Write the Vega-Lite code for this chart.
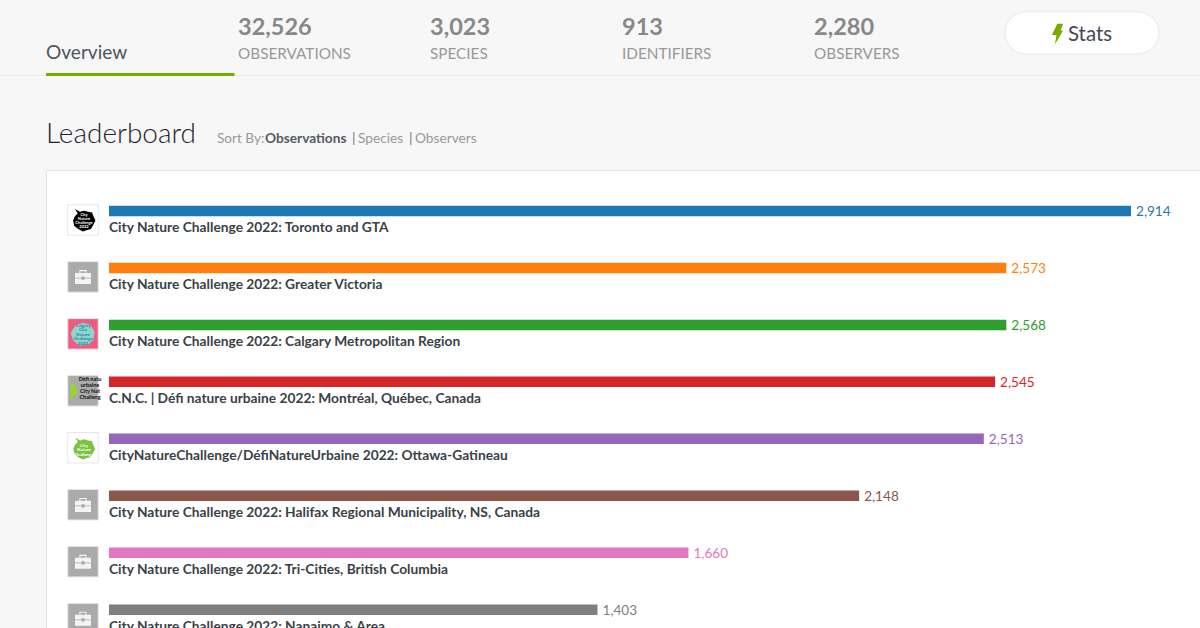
{
"$schema":"https://vega.github.io/schema/vega-lite/v6.json",
"width":1200,"height":628,"padding":0,"autosize":{"type":"none"},
"background":"#f7f7f7",
"config":{"view":{"stroke":null},"text":{"font":"Lato"}},
"datasets":{
"rows":[
{"place":"City Nature Challenge 2022: Toronto and GTA","observations":2914,"bar_percent":100,"icon":"black"},
{"place":"City Nature Challenge 2022: Greater Victoria","observations":2573,"bar_percent":87.8,"icon":"default"},
{"place":"City Nature Challenge 2022: Calgary Metropolitan Region","observations":2568,"bar_percent":87.8,"icon":"pink"},
{"place":"C.N.C. | Défi nature urbaine 2022: Montréal, Québec, Canada","observations":2545,"bar_percent":86.7,"icon":"defi"},
{"place":"CityNatureChallenge/DéfiNatureUrbaine 2022: Ottawa-Gatineau","observations":2513,"bar_percent":85.6,"icon":"green"},
{"place":"City Nature Challenge 2022: Halifax Regional Municipality, NS, Canada","observations":2148,"bar_percent":73.4,"icon":"default"},
{"place":"City Nature Challenge 2022: Tri-Cities, British Columbia","observations":1660,"bar_percent":56.7,"icon":"default"},
{"place":"City Nature Challenge 2022: Nanaimo & Area","observations":1403,"bar_percent":47.8,"icon":"default"}
],
"stats":[
{"column":0,"count":32526,"label":"OBSERVATIONS"},
{"column":1,"count":3023,"label":"SPECIES"},
{"column":2,"count":913,"label":"IDENTIFIERS"},
{"column":3,"count":2280,"label":"OBSERVERS"}
]
},
"resolve":{"scale":{"x":"independent","y":"independent"}},
"layer":[
{"data":{"values":[{"part":"panel"}]},"mark":{"type":"rect","x":46.5,"x2":1230,"y":170.5,"y2":660,"fill":"#ffffff","stroke":"#e4e4e4","strokeWidth":1},"encoding":{}},
{"data":{"values":[{"part":"header line"}]},"mark":{"type":"rect","x":0,"x2":1200,"y":75,"y2":76,"fill":"#ebebeb"},"encoding":{}},
{"data":{"values":[{"part":"tab underline"}]},"mark":{"type":"rect","x":46,"x2":234.5,"y":73,"y2":76,"fill":"#74ac00"},"encoding":{}},
{"data":{"values":[{"label":"Overview"}]},"mark":{"type":"text","x":46,"y":59,"align":"left","baseline":"alphabetic","fontSize":19.1,"fill":"#4f5560"},"encoding":{"text":{"field":"label"}}},
{"data":{"values":[{"label":"Leaderboard"}]},"mark":{"type":"text","x":46,"y":143,"align":"left","baseline":"alphabetic","fontSize":28,"fontWeight":300,"fill":"#1f232b"},"encoding":{"text":{"field":"label"}}},
{"data":{"values":[{"label":"Sort By:"}]},"mark":{"type":"text","x":217,"y":143,"align":"left","baseline":"alphabetic","fontSize":13.6,"fill":"#999999"},"encoding":{"text":{"field":"label"}}},
{"data":{"values":[{"label":"Observations"}]},"mark":{"type":"text","x":265,"y":143,"align":"left","baseline":"alphabetic","fontSize":13.7,"fontWeight":"bold","fill":"#555a63"},"encoding":{"text":{"field":"label"}}},
{"data":{"values":[{"label":"|"}]},"mark":{"type":"text","x":352,"y":143,"align":"left","baseline":"alphabetic","fontSize":14,"fill":"#777777"},"encoding":{"text":{"field":"label"}}},
{"data":{"values":[{"label":"Species"}]},"mark":{"type":"text","x":358,"y":143,"align":"left","baseline":"alphabetic","fontSize":13.7,"fill":"#999999"},"encoding":{"text":{"field":"label"}}},
{"data":{"values":[{"label":"|"}]},"mark":{"type":"text","x":409,"y":143,"align":"left","baseline":"alphabetic","fontSize":14,"fill":"#777777"},"encoding":{"text":{"field":"label"}}},
{"data":{"values":[{"label":"Observers"}]},"mark":{"type":"text","x":415,"y":143,"align":"left","baseline":"alphabetic","fontSize":13.7,"fill":"#999999"},"encoding":{"text":{"field":"label"}}},
{"data":{"values":[{"part":"stats button"}]},"mark":{"type":"rect","x":1005,"x2":1159,"y":12,"y2":54,"cornerRadius":21,"fill":"#ffffff","stroke":"#e8e8e8","strokeWidth":1},"encoding":{}},
{"data":{"values":[{"part":"bolt"}]},"mark":{"type":"point","x":1057.5,"y":34,"size":420,"filled":true,"fill":"#74ac00","opacity":1,"strokeWidth":0,"shape":"M-0.02,-1 L0.55,-1 L0.3,-0.35 L0.55,-0.35 L-0.25,1 L-0.1,0.1 L-0.55,0.1 Z"},"encoding":{}},
{"data":{"values":[{"label":"Stats"}]},"mark":{"type":"text","x":1068,"y":41,"align":"left","baseline":"alphabetic","fontSize":20.4,"fill":"#454a54"},"encoding":{"text":{"field":"label"}}},
{"data":{"name":"stats"},"mark":{"type":"text","y":35,"align":"left","baseline":"alphabetic","fontSize":23.5,"fontWeight":"bold","fill":"#888888"},
 "encoding":{"x":{"field":"column","type":"quantitative","axis":null,"scale":{"domain":[0,3],"range":[238,814]}},"text":{"field":"count","type":"quantitative","format":","}}},
{"data":{"name":"stats"},"mark":{"type":"text","y":59,"align":"left","baseline":"alphabetic","fontSize":15.3,"fill":"#999999"},
 "encoding":{"x":{"field":"column","type":"quantitative","axis":null,"scale":{"domain":[0,3],"range":[238,814]}},"text":{"field":"label"}}},
{"data":{"name":"rows"},
 "encoding":{
  "y":{"field":"place","type":"nominal","axis":null,"sort":null,"scale":{"type":"band","range":[182.5,638.1],"paddingInner":0,"paddingOuter":0}}
 },
 "layer":[
  {"mark":{"type":"bar","size":10.5},"encoding":{
    "x":{"field":"bar_percent","type":"quantitative","axis":null,"scale":{"domain":[0,100],"range":[109,1131]}},
    "color":{"field":"place","type":"nominal","sort":null,"legend":null,"scale":{"scheme":"category10"}}}},
  {"mark":{"type":"text","align":"left","baseline":"middle","dx":5,"dy":1.5,"fontSize":13.6},"encoding":{
    "x":{"field":"bar_percent","type":"quantitative"},
    "text":{"field":"observations","type":"quantitative","format":","},
    "color":{"field":"place","type":"nominal","sort":null,"legend":null,"scale":{"scheme":"category10"}}}},
  {"mark":{"type":"text","align":"left","baseline":"middle","dy":17.3,"fontSize":13.75,"fontWeight":"bold","fill":"#3a3f48"},"encoding":{
    "x":{"datum":0,"type":"quantitative"},
    "text":{"field":"place"}}},
  {"transform":[{"filter":"datum.icon==='default'"}],"mark":{"type":"point","shape":"square","filled":true,"size":930,"fill":"#aaaaaa","stroke":"#e6e6e6","strokeWidth":1,"opacity":1,"xOffset":-26,"yOffset":9},"encoding":{"x":{"datum":0,"type":"quantitative"}}},
  {"transform":[{"filter":"datum.icon==='default'"}],"mark":{"type":"point","filled":true,"size":256,"fill":"#f4f4f4","strokeWidth":0,"opacity":1,"xOffset":-26,"yOffset":9,
    "shape":"M-1,-0.5 H1 V0.1 H0.2 V-0.05 H-0.2 V0.1 H-1 Z M-1,0.2 H-0.2 V0.35 H0.2 V0.2 H1 V0.9 H-1 Z M-0.45,-0.5 V-0.85 H0.45 V-0.5 H0.32 V-0.72 H-0.32 V-0.5 Z"},"encoding":{"x":{"datum":0,"type":"quantitative"}}},
  {"transform":[{"filter":"datum.icon==='black'||datum.icon==='green'"}],"mark":{"type":"point","shape":"square","filled":true,"size":930,"fill":"#ffffff","stroke":"#e6e6e6","strokeWidth":1,"opacity":1,"xOffset":-26,"yOffset":9},"encoding":{"x":{"datum":0,"type":"quantitative"}}},
  {"transform":[{"filter":"datum.icon==='pink'"}],"mark":{"type":"point","shape":"square","filled":true,"size":930,"fill":"#ef5a7e","stroke":"#e6e6e6","strokeWidth":1,"opacity":1,"xOffset":-26,"yOffset":9},"encoding":{"x":{"datum":0,"type":"quantitative"}}},
  {"transform":[{"filter":"datum.icon==='defi'"}],"mark":{"type":"point","shape":"square","filled":true,"size":930,"fill":"#aaaaaa","stroke":"#e6e6e6","strokeWidth":1,"opacity":1,"xOffset":-26,"yOffset":9},"encoding":{"x":{"datum":0,"type":"quantitative"}}},
  {"transform":[{"filter":"datum.icon==='black'"}],"mark":{"type":"point","filled":true,"size":530,"fill":"#000000","strokeWidth":0,"opacity":1,"xOffset":-25,"yOffset":9.5,
    "shape":"M-0.55,-0.62 L-0.8,-1 L-0.35,-0.75 L0,-0.85 L0.35,-0.75 L0.7,-0.7 L0.85,-0.3 L1,0 L0.8,0.4 L0.6,0.75 L0.2,0.85 L-0.1,0.95 L-0.5,0.75 L-0.85,0.45 L-0.95,0 L-0.8,-0.35 Z"},"encoding":{"x":{"datum":0,"type":"quantitative"}}},
  {"transform":[{"filter":"datum.icon==='green'"}],"mark":{"type":"point","filled":true,"size":500,"fill":"#7cc242","strokeWidth":0,"opacity":1,"xOffset":-25,"yOffset":10,
    "shape":"M-0.55,-0.62 L-0.8,-1 L-0.35,-0.75 L0,-0.85 L0.35,-0.75 L0.7,-0.7 L0.85,-0.3 L1,0 L0.8,0.4 L0.6,0.75 L0.2,0.85 L-0.1,0.95 L-0.5,0.75 L-0.85,0.45 L-0.95,0 L-0.8,-0.35 Z"},"encoding":{"x":{"datum":0,"type":"quantitative"}}},
  {"transform":[{"filter":"datum.icon==='pink'"}],"mark":{"type":"point","filled":true,"size":600,"fill":"#8ed6c8","strokeWidth":0,"opacity":1,"xOffset":-26,"yOffset":9,
    "shape":"M-0.6,-0.7 L0,-0.9 L0.6,-0.75 L0.95,-0.2 L0.85,0.5 L0.4,0.9 L-0.3,0.95 L-0.85,0.5 L-1,-0.1 Z"},"encoding":{"x":{"datum":0,"type":"quantitative"}}},
  {"transform":[{"filter":"datum.icon==='defi'"}],"mark":{"type":"point","filled":true,"size":340,"fill":"#9ccf3c","strokeWidth":0,"opacity":1,"xOffset":-36,"yOffset":9,
    "shape":"M-0.3,-1 L0.3,-0.5 L0.5,0 L0.3,0.5 L-0.3,1 Z"},"encoding":{"x":{"datum":0,"type":"quantitative"}}},
  {"transform":[{"filter":"datum.icon==='defi'"},{"calculate":"'Défi natu\\nurbaine\\n\\nCity Nat\\nChalleng'","as":"logo"}],"mark":{"type":"text","align":"center","baseline":"top","fontSize":5.5,"fontWeight":"bold","lineHeight":6,"lineBreak":"\n","fill":"#111111","xOffset":-19,"yOffset":-5},"encoding":{"x":{"datum":0,"type":"quantitative"},"text":{"field":"logo"}}},
  {"transform":[{"filter":"datum.icon==='black'"},{"calculate":"'City\\nNature\\nChallenge\\n2022'","as":"logo"}],"mark":{"type":"text","align":"center","baseline":"top","fontSize":4,"fontWeight":"bold","lineHeight":4,"lineBreak":"\n","fill":"#ffffff","xOffset":-25,"yOffset":2},"encoding":{"x":{"datum":0,"type":"quantitative"},"text":{"field":"logo"}}},
  {"transform":[{"filter":"datum.icon==='green'"},{"calculate":"'City\\nNature\\nChallenge'","as":"logo"}],"mark":{"type":"text","align":"center","baseline":"top","fontSize":4.5,"fontWeight":"bold","lineHeight":4.5,"lineBreak":"\n","fill":"#ffffff","xOffset":-25,"yOffset":4},"encoding":{"x":{"datum":0,"type":"quantitative"},"text":{"field":"logo"}}},
  {"transform":[{"filter":"datum.icon==='pink'"},{"calculate":"'Calgary\\nCity\\nNature\\nChallenge\\n2022'","as":"logo"}],"mark":{"type":"text","align":"center","baseline":"top","fontSize":4.5,"fontWeight":"bold","lineHeight":4.5,"lineBreak":"\n","fill":"#2f7fb8","xOffset":-26,"yOffset":-2},"encoding":{"x":{"datum":0,"type":"quantitative"},"text":{"field":"logo"}}}
 ]}
]
}
